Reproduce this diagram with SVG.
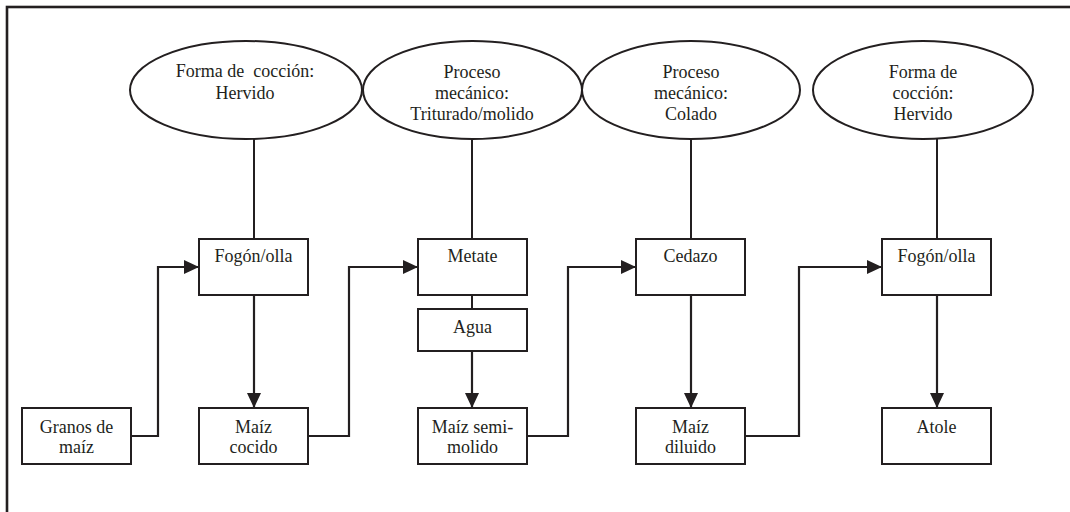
<svg xmlns="http://www.w3.org/2000/svg" width="1070" height="512" viewBox="0 0 1070 512">
  <style>
    .frame { fill: none; stroke: #231f20; stroke-width: 2.6; }
    .oval { fill: #ffffff; stroke: #231f20; stroke-width: 2; }
    .box { fill: #ffffff; stroke: #231f20; stroke-width: 2; }
    .link { fill: none; stroke: #231f20; stroke-width: 2; }
    .flow { fill: none; stroke: #231f20; stroke-width: 2.2; marker-end: url(#head); }
    .lbl { font-family: "Liberation Serif", "DejaVu Serif", serif; font-size: 18px; fill: #231f20; text-anchor: middle; }
  </style>
  <defs>
    <marker id="head" markerUnits="userSpaceOnUse" markerWidth="15" markerHeight="14" refX="15" refY="7" orient="auto">
      <path d="M0,0 L15,7 L0,14 Z" fill="#231f20"/>
    </marker>
  </defs>

  <rect width="1070" height="512" fill="#ffffff"/>
  <!-- outer frame, open at right and bottom -->
  <rect class="frame" x="7" y="7" width="1100" height="560"/>

  <g id="connectors">
    <!-- ovals to equipment -->
    <line class="link" x1="254" y1="139" x2="254" y2="239"/>
    <line class="link" x1="472" y1="139" x2="472" y2="239"/>
    <line class="link" x1="691" y1="139" x2="691" y2="239"/>
    <line class="link" x1="937" y1="139" x2="937" y2="239"/>
    <line class="link" x1="472" y1="295" x2="472" y2="309"/>
    <!-- equipment to products -->
    <line class="flow" x1="254" y1="295" x2="254" y2="408"/>
    <line class="flow" x1="472" y1="351" x2="472" y2="408"/>
    <line class="flow" x1="691" y1="295" x2="691" y2="408"/>
    <line class="flow" x1="937" y1="295" x2="937" y2="408"/>
    <!-- products to next step -->
    <polyline class="flow" points="131,436 158,436 158,267 199,267"/>
    <polyline class="flow" points="308,436 349,436 349,267 418,267"/>
    <polyline class="flow" points="527,436 568,436 568,267 636,267"/>
    <polyline class="flow" points="745,436 799,436 799,267 882,267"/>
  </g>

  <g id="oval-hervido-1">
    <ellipse class="oval" cx="246" cy="90" rx="116" ry="49"/>
    <text class="lbl" x="245" y="77" xml:space="preserve">Forma de  cocción:</text>
    <text class="lbl" x="245" y="99">Hervido</text>
  </g>
  <g id="oval-triturado">
    <ellipse class="oval" cx="472.5" cy="90" rx="109.5" ry="49"/>
    <text class="lbl" x="472" y="78">Proceso</text>
    <text class="lbl" x="472" y="99">mecánico:</text>
    <text class="lbl" x="472" y="120">Triturado/molido</text>
  </g>
  <g id="oval-colado">
    <ellipse class="oval" cx="691" cy="90" rx="109" ry="49"/>
    <text class="lbl" x="691" y="78">Proceso</text>
    <text class="lbl" x="691" y="99">mecánico:</text>
    <text class="lbl" x="691" y="120">Colado</text>
  </g>
  <g id="oval-hervido-2">
    <ellipse class="oval" cx="923" cy="90" rx="110" ry="49"/>
    <text class="lbl" x="923" y="78">Forma de</text>
    <text class="lbl" x="923" y="99">cocción:</text>
    <text class="lbl" x="923" y="120">Hervido</text>
  </g>

  <g id="box-fogon-1">
    <rect class="box" x="199" y="239" width="109" height="56"/>
    <text class="lbl" x="253.5" y="262">Fogón/olla</text>
  </g>
  <g id="box-metate">
    <rect class="box" x="418" y="239" width="109" height="56"/>
    <text class="lbl" x="472.5" y="262">Metate</text>
  </g>
  <g id="box-agua">
    <rect class="box" x="418" y="309" width="109" height="42"/>
    <text class="lbl" x="472.5" y="333">Agua</text>
  </g>
  <g id="box-cedazo">
    <rect class="box" x="636" y="239" width="109" height="56"/>
    <text class="lbl" x="690.5" y="262">Cedazo</text>
  </g>
  <g id="box-fogon-2">
    <rect class="box" x="882" y="239" width="109" height="56"/>
    <text class="lbl" x="936.5" y="262">Fogón/olla</text>
  </g>

  <g id="box-granos">
    <rect class="box" x="22" y="408" width="109" height="56"/>
    <text class="lbl" x="76.5" y="433">Granos de</text>
    <text class="lbl" x="76.5" y="453">maíz</text>
  </g>
  <g id="box-maiz-cocido">
    <rect class="box" x="199" y="408" width="109" height="56"/>
    <text class="lbl" x="253.5" y="433">Maíz</text>
    <text class="lbl" x="253.5" y="453">cocido</text>
  </g>
  <g id="box-maiz-semimolido">
    <rect class="box" x="418" y="408" width="109" height="56"/>
    <text class="lbl" x="472.5" y="433">Maíz semi-</text>
    <text class="lbl" x="472.5" y="453">molido</text>
  </g>
  <g id="box-maiz-diluido">
    <rect class="box" x="636" y="408" width="109" height="56"/>
    <text class="lbl" x="690.5" y="433">Maíz</text>
    <text class="lbl" x="690.5" y="453">diluido</text>
  </g>
  <g id="box-atole">
    <rect class="box" x="882" y="408" width="109" height="56"/>
    <text class="lbl" x="936.5" y="433">Atole</text>
  </g>
</svg>
